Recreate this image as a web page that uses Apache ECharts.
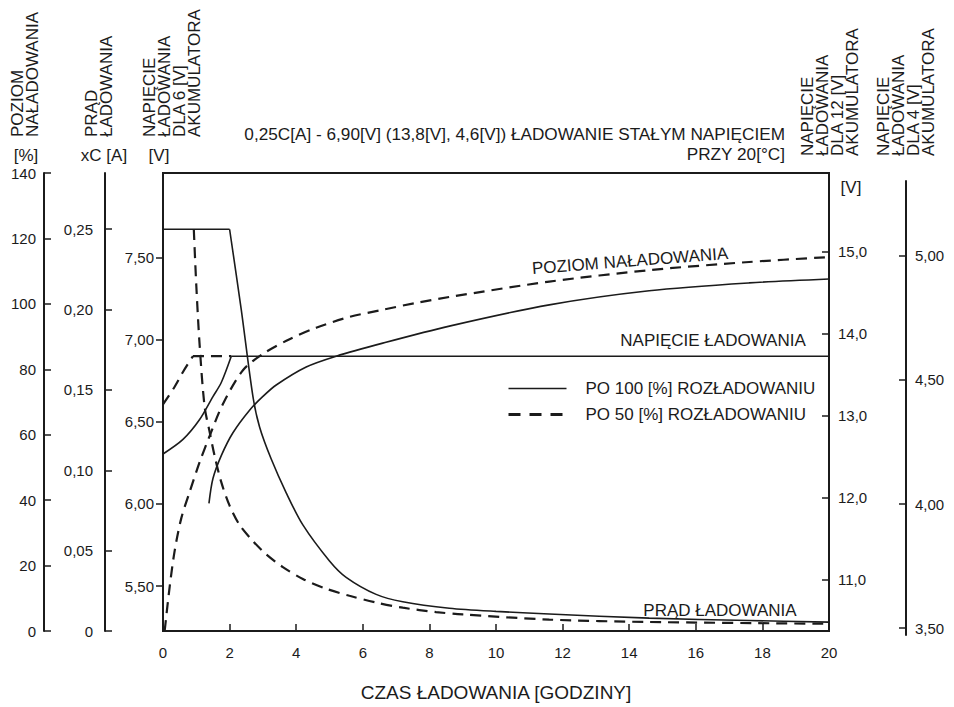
<!DOCTYPE html>
<html>
<head>
<meta charset="utf-8">
<script src="https://cdn.jsdelivr.net/npm/echarts@6/dist/echarts.min.js"></script>
<style>
  html, body { margin: 0; padding: 0; background: #fff; }
  #chart { width: 954px; height: 707px; }
</style>
</head>
<body>
<div id="chart"></div>
<script>
// tick values of the five scales + time axis
const czasTicks = [0, 2, 4, 6, 8, 10, 12, 14, 16, 18, 20];
const poziomTicks = [0, 20, 40, 60, 80, 100, 120, 140];
const pradTicks = [0, 0.05, 0.10, 0.15, 0.20, 0.25];
const v6Ticks = [5.5, 6.0, 6.5, 7.0, 7.5];
const v12Ticks = [11, 12, 13, 14, 15];
const v4Ticks = [3.5, 4.0, 4.5, 5.0];

// scale ranges
const pradRange = [0, 0.285];
const v6Range = [5.226, 8.016];
const v12Range = [10.372, 15.957];
const v4Range = [3.472, 5.302];

// PO 100 [%] ROZŁADOWANIU  -> [czas h, wartość]
const prad100Stala = [[0, 0.25], [2, 0.25]];
const prad100 = [[2, 0.25], [2.35, 0.20], [2.7, 0.146], [2.9, 0.127], [3.25, 0.107], [3.7, 0.086],
  [4.2, 0.066], [5, 0.0436], [5.5, 0.0334], [6.4, 0.0228], [7.2, 0.0182], [8.6, 0.0142], [10, 0.0122],
  [11.6, 0.0106], [14.6, 0.008], [17.6, 0.0065], [20, 0.0055]];
const napiecie100 = [[0, 6.304], [0.6, 6.393], [1.1, 6.514], [1.5, 6.654], [1.75, 6.74], [2.05, 6.90]];
const napiecie100Stale = [[2.05, 6.90], [20, 6.90]];
const poziom100 = [[1.38, 39.0], [1.5, 46.6], [1.75, 53.6], [2.1, 60.6], [2.6, 67.5], [3.0, 71.7],
  [3.4, 75.2], [4.3, 80.7], [5.2, 84.0], [6.6, 88.0], [8.6, 93.2], [11.6, 99.7], [14.6, 104.0],
  [17.6, 106.4], [20, 107.6]];

// PO 50 [%] ROZŁADOWANIU
const prad50 = [[0.925, 0.25], [1.0, 0.215], [1.1, 0.178], [1.25, 0.1395], [1.4, 0.124], [1.55, 0.109],
  [1.75, 0.0926], [2.0, 0.078], [2.3, 0.066], [2.7, 0.056], [3.1, 0.0477], [3.6, 0.0398], [4.2, 0.0324],
  [4.9, 0.0263], [5.6, 0.0219], [6.4, 0.0177], [7.2, 0.0145], [8.2, 0.0118], [9, 0.0103],
  [11.6, 0.0071], [14.6, 0.0056], [20, 0.0045]];
const napiecie50 = [[0, 6.606], [0.35, 6.714], [0.6, 6.804], [0.9, 6.90]];
const napiecie50Stale = [[0.9, 6.90], [2.05, 6.90]];
const poziom50 = [[0.05, 0], [0.2, 13.5], [0.35, 24.5], [0.55, 34.5], [0.8, 42.5], [1.1, 51.6],
  [1.4, 59.6], [1.8, 69.4], [2.4, 79.7], [3.0, 84.7], [3.8, 89.2], [4.6, 92.7], [5.6, 96.0],
  [6.6, 98.2], [7.6, 100.3], [8.6, 102.1], [11.6, 106.8], [14.6, 110.3], [17.6, 112.8], [20, 114.3]];

const S100 = 'PO 100 [%] ROZŁADOWANIU';
const S50 = 'PO 50 [%] ROZŁADOWANIU';
const INK = '#1b1b1b';
const FONT = '"Liberation Sans", Arial, sans-serif';

const chart = echarts.init(document.getElementById('chart'), null, {renderer: 'svg'});

function comma(digits) {
  return function (v) {
    return v === 0 ? '0' : v.toFixed(digits).replace('.', ',');
  };
}

function yAx(cfg) {
  return {
    type: 'value',
    gridIndex: cfg.grid || 0,
    position: cfg.position,
    offset: cfg.offset,
    min: cfg.min,
    max: cfg.max,
    interval: cfg.interval,
    splitLine: {show: false},
    axisLine: {show: true, onZero: false, lineStyle: {color: INK, width: 2}},
    axisTick: {show: true, inside: cfg.inside, length: 7, customValues: cfg.ticks,
      lineStyle: {color: INK, width: 1.5}},
    axisLabel: {color: INK, fontSize: 15, fontFamily: FONT, margin: cfg.margin,
      customValues: cfg.ticks, formatter: cfg.fmt}
  };
}

function line(name, data, yIdx, dashed, smooth) {
  return {
    name: name,
    type: 'line',
    xAxisIndex: 0,
    yAxisIndex: yIdx,
    data: data,
    symbol: 'none',
    smooth: smooth ? 0.3 : false,
    silent: true,
    lineStyle: dashed ? {color: INK, width: 2.2, type: [11, 7]} : {color: INK, width: 1.6},
    itemStyle: {color: INK}
  };
}

function vtext(x, y, txt) {
  return {
    type: 'text', x: x, y: y, rotation: Math.PI / 2,
    style: {text: txt, fill: INK, fontSize: 17, fontFamily: FONT, lineHeight: 15,
      align: 'left', verticalAlign: 'top'}
  };
}

function htext(x, y, txt, align, rot, size) {
  return {
    type: 'text', x: x, y: y, rotation: rot || 0,
    style: {text: txt, fill: INK, fontSize: size || 17, fontFamily: FONT, lineHeight: 20,
      align: align || 'center', verticalAlign: 'middle'}
  };
}

let option = {
  backgroundColor: '#fff',
  animation: false,
  grid: [
    {left: 163, right: 125, top: 173, bottom: 69, show: true, borderColor: INK, borderWidth: 2},
    {left: 163, right: 125, top: 181, bottom: 72}
  ],
  legend: {
    orient: 'vertical', left: 507, top: 380, itemWidth: 58, itemHeight: 14, itemGap: 9,
    padding: 0, selectedMode: false,
    textStyle: {color: INK, fontSize: 17, fontFamily: FONT, padding: [0, 0, 0, 14]},
    data: [
      {name: S100, itemStyle: {opacity: 0}, lineStyle: {color: INK, width: 1.6, type: 'solid'}},
      {name: S50, itemStyle: {opacity: 0}, lineStyle: {color: INK, width: 3, type: [12, 9]}}
    ]
  },
  xAxis: [
    {
      type: 'value', gridIndex: 0, min: 0, max: 20, interval: 2,
      name: 'CZAS ŁADOWANIA [GODZINY]', nameLocation: 'middle', nameGap: 52,
      nameTextStyle: {color: INK, fontSize: 19, fontFamily: FONT},
      splitLine: {show: false},
      axisLine: {show: true, onZero: false, lineStyle: {color: INK, width: 2}},
      axisTick: {show: true, inside: true, length: 7, lineStyle: {color: INK, width: 1.5}},
      axisLabel: {color: INK, fontSize: 15, fontFamily: FONT, margin: 14,
        customValues: czasTicks}
    },
    {type: 'value', gridIndex: 1, min: 0, max: 20, show: false}
  ],
  yAxis: [
    yAx({position: 'left', offset: 119, min: 0, max: 140, interval: 20, ticks: poziomTicks,
      inside: true, margin: 8, fmt: function (v) { return String(v); }}),
    yAx({position: 'left', offset: 58, min: pradRange[0], max: pradRange[1], ticks: pradTicks,
      inside: true, margin: 12, fmt: comma(2)}),
    yAx({position: 'left', offset: 0, min: v6Range[0], max: v6Range[1], ticks: v6Ticks,
      inside: false, margin: 9, fmt: comma(2)}),
    yAx({position: 'right', offset: 0, min: v12Range[0], max: v12Range[1], ticks: v12Ticks,
      inside: true, margin: 9, fmt: comma(1)}),
    yAx({grid: 1, position: 'right', offset: 77, min: v4Range[0], max: v4Range[1], ticks: v4Ticks,
      inside: true, margin: 9, fmt: comma(2)})
  ],
  series: [
    line(S100, prad100Stala, 1, false, false),
    line(S100, prad100, 1, false, true),
    line(S100, napiecie100, 2, false, true),
    line(S100, napiecie100Stale, 2, false, false),
    line(S100, poziom100, 0, false, true),
    line(S50, prad50, 1, true, true),
    line(S50, napiecie50, 2, true, true),
    line(S50, napiecie50Stale, 2, true, false),
    line(S50, poziom50, 0, true, true)
  ],
  graphic: [
    vtext(10, 137, 'POZIOM\nNAŁADOWANIA'),
    vtext(84, 137, 'PRĄD\nŁADOWANIA'),
    vtext(142, 137, 'NAPIĘCIE\nŁADOWANIA\nDLA 6 [V]\nAKUMULATORA'),
    vtext(800, 156, 'NAPIĘCIE\nŁADOWANIA\nDLA 12 [V]\nAKUMULATORA'),
    vtext(876, 156, 'NAPIĘCIE\nŁADOWANIA\nDLA 4 [V]\nAKUMULATORA'),
    htext(26, 155, '[%]'),
    htext(104, 155, 'xC [A]'),
    htext(159, 155, '[V]'),
    htext(851, 187, '[V]'),
    htext(785, 143.5, '0,25C[A] - 6,90[V] (13,8[V], 4,6[V]) ŁADOWANIE STAŁYM NAPIĘCIEM\nPRZY 20[°C]',
      'right', 0, 17.2),
    htext(630, 261, 'POZIOM NAŁADOWANIA', 'center', 0.077),
    htext(713, 340, 'NAPIĘCIE ŁADOWANIA', 'center'),
    htext(720, 610, 'PRĄD ŁADOWANIA', 'center')
  ]
};

chart.setOption(option);
</script>
</body>
</html>
